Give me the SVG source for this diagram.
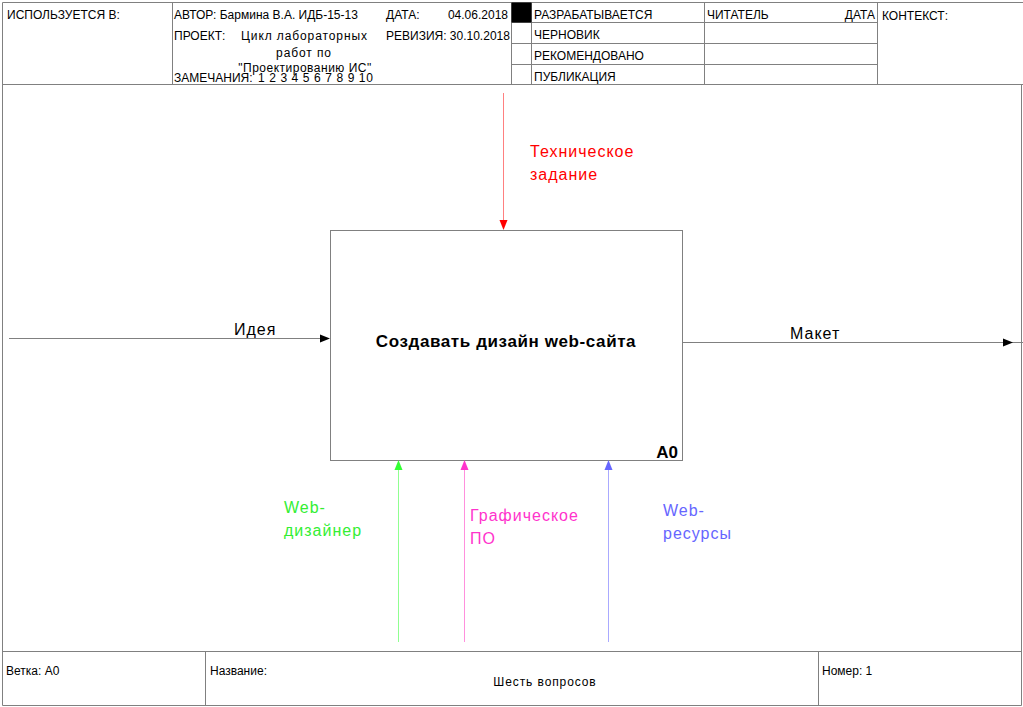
<svg xmlns="http://www.w3.org/2000/svg" width="1023" height="707" viewBox="0 0 1023 707">
<style>
.fr{fill:none;stroke:#808080;stroke-width:1}
.t{font-family:"Liberation Sans",Arial,sans-serif;font-size:12px;fill:#000}
.tn{font-family:"Liberation Sans",Arial,sans-serif;font-size:12px;fill:#000}
.lb{font-family:"Liberation Sans",Arial,sans-serif;font-size:16px;letter-spacing:1px}
.b{font-family:"Liberation Sans",Arial,sans-serif;font-size:17px;font-weight:bold;fill:#000}
</style>
<rect width="1023" height="707" fill="#fff"/>
<g id="frame">
<path class="fr" d="M2.5,2.5 H1023 M2.5,2.5 V705.5 H1021.5 V84.5 M2.5,84.5 H1023 M2.5,651.5 H1021.5"/>
<path class="fr" d="M172.5,2.5 V84.5 M511.5,2.5 V84.5 M531.5,2.5 V84.5 M704.5,2.5 V84.5 M877.5,2.5 V84.5 M511.5,22.5 H877.5 M511.5,43.5 H877.5 M511.5,64.5 H877.5"/>
<rect x="511.5" y="2.5" width="20" height="20" fill="#000"/>
<path class="fr" d="M205.5,651.5 V705.5 M818.5,651.5 V705.5"/>
</g>
<g id="header-text">
<text class="t" x="7" y="19">ИСПОЛЬЗУЕТСЯ В:</text>
<text class="t" x="174" y="19">АВТОР: Бармина В.А. ИДБ-15-13</text>
<text class="t" x="386" y="19">ДАТА:</text>
<text class="t" x="508" y="19" text-anchor="end">04.06.2018</text>
<text class="t" x="174" y="40">ПРОЕКТ:</text>
<text class="t" x="241" y="40" letter-spacing="0.9">Цикл лабораторных</text>
<text class="t" x="304" y="57" text-anchor="middle" letter-spacing="0.9">работ по</text>
<text class="t" x="305" y="72" text-anchor="middle" letter-spacing="0.5">"Проектированию ИС"</text>
<text class="t" x="174" y="82">ЗАМЕЧАНИЯ:</text>
<text class="t" x="258" y="82" letter-spacing="0.6">1 2 3 4 5 6 7 8 9 10</text>
<text class="t" x="386" y="40">РЕВИЗИЯ: 30.10.2018</text>
<text class="t" x="534" y="19">РАЗРАБАТЫВАЕТСЯ</text>
<text class="t" x="534" y="39">ЧЕРНОВИК</text>
<text class="t" x="534" y="60">РЕКОМЕНДОВАНО</text>
<text class="t" x="534" y="81">ПУБЛИКАЦИЯ</text>
<text class="t" x="707" y="19">ЧИТАТЕЛЬ</text>
<text class="t" x="875" y="19" text-anchor="end">ДАТА</text>
<text class="t" x="882" y="20">КОНТЕКСТ:</text>
</g>
<g id="footer-text">
<text class="tn" x="6" y="675">Ветка: A0</text>
<text class="tn" x="210" y="675">Название:</text>
<text class="tn" x="545" y="686" text-anchor="middle" letter-spacing="0.9">Шесть вопросов</text>
<text class="tn" x="822" y="675">Номер: 1</text>
</g>
<g id="A0">
<rect x="330.5" y="230.5" width="352" height="230" fill="#fff" stroke="#808080" stroke-width="1"/>
<text class="b" x="506" y="347" text-anchor="middle" letter-spacing="0.6">Создавать дизайн web-сайта</text>
<text class="b" x="678" y="458" text-anchor="end">A0</text>
</g>
<g id="connectors">
<line x1="9" y1="338.5" x2="322" y2="338.5" stroke="#808080"/>
<polygon points="330,338.5 320,334.5 320,342.5" fill="#000"/>
<text class="lb" x="234" y="335" fill="#000">Идея</text>
<line x1="682.5" y1="342.5" x2="1023" y2="342.5" stroke="#808080"/>
<polygon points="1013,342.5 1003,338.5 1003,346.5" fill="#000"/>
<text class="lb" x="790" y="339" fill="#000">Макет</text>
<line x1="503.5" y1="93" x2="503.5" y2="222" stroke="#ff8080"/>
<polygon points="503.5,230 499.5,220 507.5,220" fill="#ff0000"/>
<text class="lb" x="530" y="157" fill="#ff0000">Техническое</text>
<text class="lb" x="530" y="180" fill="#ff0000">задание</text>
<line x1="398.5" y1="642" x2="398.5" y2="468" stroke="#90ff90"/>
<polygon points="398.5,460 394.5,470 402.5,470" fill="#33ff33"/>
<text class="lb" x="284" y="513" fill="#33ee33">Web-</text>
<text class="lb" x="284" y="536" fill="#33ee33">дизайнер</text>
<line x1="464.5" y1="642" x2="464.5" y2="468" stroke="#ff90dd"/>
<polygon points="464.5,460 460.5,470 468.5,470" fill="#ff33cc"/>
<text class="lb" x="470" y="521" fill="#ff33cc">Графическое</text>
<text class="lb" x="470" y="544" fill="#ff33cc">ПО</text>
<line x1="608.5" y1="642" x2="608.5" y2="468" stroke="#aaaaff"/>
<polygon points="608.5,460 604.5,470 612.5,470" fill="#6666ff"/>
<text class="lb" x="663" y="516" fill="#6666ff">Web-</text>
<text class="lb" x="663" y="539" fill="#6666ff">ресурсы</text>
</g>
</svg>
